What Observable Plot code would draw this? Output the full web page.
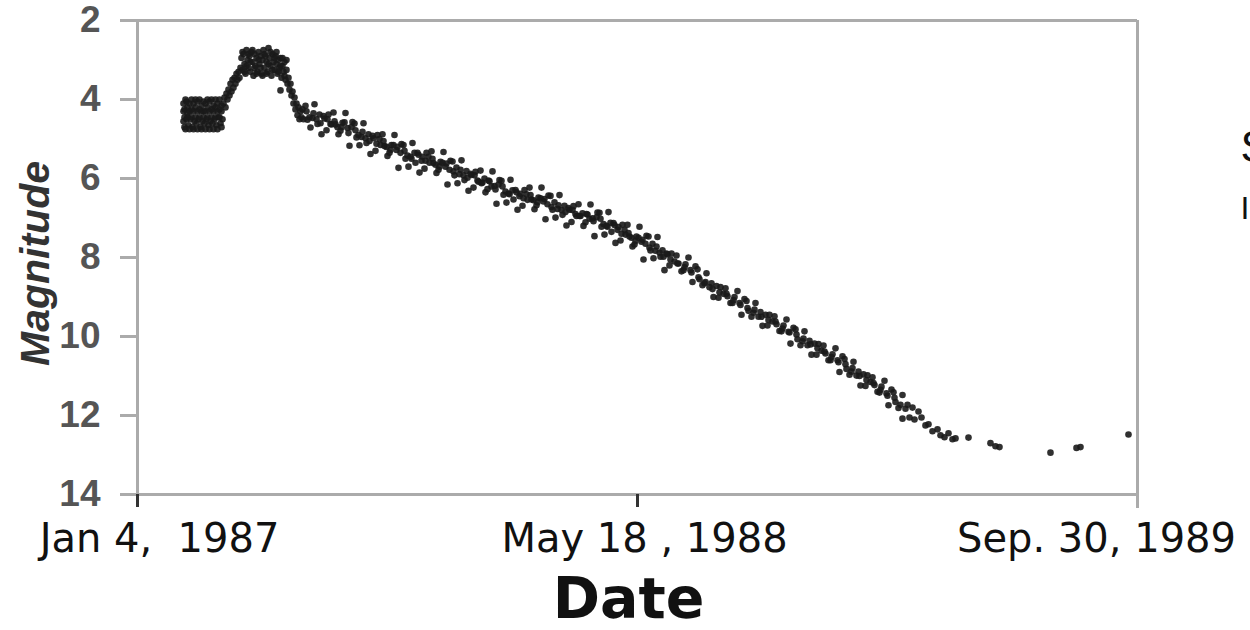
<!DOCTYPE html>
<html>
<head>
<meta charset="utf-8">
<script src="https://cdn.jsdelivr.net/npm/d3@7"></script>
<script src="https://cdn.jsdelivr.net/npm/@observablehq/plot@0.6"></script>
<style>
  html, body { margin: 0; padding: 0; background: #fff; }
  svg { display: block; }
</style>
</head>
<body>
<div id="chart"></div>
<script>
// Day offsets from Jan 4, 1987 and visual magnitudes
const plateau = [[46,4.1],[46,4.55],[47,4.25],[47,4.7],[49,4.05],[49,4.5],[50,4.2],[51,4.65],[52,4.1],[53,4.5],[54,4.25],[55,4.7],[56,4.1],[57,4.55],[58,4.2],[59,4.6],[60,4.05],[61,4.5],[62,4.25],[63,4.7],[64,4.15],[65,4.55],[66,4.3],[67,4.6],[68,4.1],[69,4.5],[70,4.2],[71,4.65],[72,4.05],[73,4.55],[74,4.25],[75,4.6],[76,4.15],[77,4.5],[78,4.2],[79,4.65],[80,4.1],[81,4.45],[82,4.25],[83,4.6],[84,4.15],[85,4.5],
  [46,4.3],[47,4.45],[48,4.0],[48,4.75],[50,4.35],[50,4.45],[52,4.3],[52,4.75],[54,4.0],[54,4.45],[56,4.3],[56,4.75],[58,4.0],[58,4.45],[60,4.3],[60,4.75],[62,4.0],[62,4.45],[64,4.3],[64,4.75],[66,4.05],[66,4.45],[68,4.3],[68,4.75],[70,4.0],[70,4.45],[72,4.3],[72,4.75],[74,4.0],[74,4.45],[76,4.3],[76,4.75],[78,4.0],[78,4.45],[80,4.3],[80,4.75],[82,4.0],[82,4.45],[84,4.3],[84,4.7]];
const rise = [[86,4.1],[87,3.95],[88,4.2],[89,3.85],[90,4.0],[91,3.75],[92,3.9],[93,3.6],[94,3.8],[95,3.5],[96,3.7],[97,3.45],[98,3.6],[99,3.35],[100,3.5],[101,3.3],[102,3.45],[103,3.2]];
const peak = [[104,2.95],[105,3.25],[106,2.85],[107,3.1],[108,3.35],[109,2.75],[110,3.0],[111,3.2],[112,2.9],[113,3.3],[114,2.8],[115,3.05],[116,3.4],[117,2.85],[118,3.15],[119,2.95],[120,3.3],[121,2.8],[122,3.1],[123,2.9],[124,3.35],[125,3.0],[126,2.75],[127,3.2],[128,2.9],[129,3.05],[130,3.3],[131,2.7],[132,2.95],[133,3.15],[134,3.4],[135,2.85],[136,3.05],[137,3.25],[138,2.9],[139,3.1],[140,3.35],[141,3.0],[142,3.2],[143,2.95],[143,3.77],[144,3.45],[145,3.15],[146,3.3],[147,3.05],[148,3.5],[149,3.25],[150,3.6],
  [105,2.8],[107,3.3],[109,3.15],[111,2.85],[113,3.05],[115,2.75],[117,3.2],[119,3.35],[121,3.0],[123,3.2],[125,3.4],[127,2.85],[129,3.35],[131,3.1],[133,2.8],[135,3.25],[137,2.95],[139,2.8],[141,3.3],[143,3.15],[145,2.95],[147,3.4],[149,3.0]];
const fall = [[151,3.45],[152,3.75],[153,3.6],[154,3.9],[155,3.8],[156,4.1],[157,3.95],[158,4.25],[159,4.1],[160,4.4],[161,4.2],[162,4.5],[163,4.3],[164,4.45],[165,4.25],[166,4.5]];
const decline = [
  [168,4.16],[170,4.51],[173,4.71],[175,4.47],[177,4.12],[180,4.62],[182,4.38],[184,4.88],[187,4.48],
  [189,4.78],[191,4.38],[194,4.63],[196,4.33],[198,4.63],[201,4.88],[203,4.79],[205,4.59],[208,4.34],
  [210,4.72],[212,5.17],[215,4.57],[217,4.61],[219,4.96],[222,5.16],[224,4.95],[226,4.6],[229,5.1],
  [231,4.88],[233,5.38],[236,4.98],[238,5.3],[240,4.9],[243,5.15],[245,4.88],[247,5.18],[250,5.43],
  [252,5.35],[254,5.15],[257,4.9],[259,5.28],[261,5.73],[264,5.13],[266,5.15],[268,5.5],[271,5.7],
  [273,5.45],[275,5.1],[278,5.6],[280,5.35],[282,5.85],[285,5.45],[287,5.75],[289,5.35],[292,5.6],
  [294,5.31],[296,5.61],[299,5.86],[301,5.78],[303,5.58],[306,5.33],[308,5.7],[310,6.15],[313,5.55],
  [315,5.57],[317,5.92],[320,6.12],[322,5.89],[324,5.54],[327,6.04],[329,5.81],[331,6.31],[334,5.91],
  [336,6.23],[338,5.83],[341,6.08],[343,5.8],[345,6.1],[348,6.35],[350,6.27],[352,6.07],[355,5.82],
  [357,6.19],[359,6.64],[362,6.04],[364,6.06],[366,6.41],[369,6.61],[371,6.38],[373,6.03],[376,6.53],
  [378,6.29],[380,6.79],[383,6.39],[385,6.69],[387,6.29],[390,6.54],[392,6.23],[394,6.53],[397,6.78],
  [399,6.68],[401,6.48],[404,6.23],[406,6.58],[408,7.03],[411,6.43],[413,6.44],[415,6.79],[418,6.99],
  [420,6.77],[422,6.42],[425,6.92],[427,6.69],[429,7.19],[432,6.79],[434,7.1],[436,6.7],[439,6.95],
  [441,6.65],[443,6.95],[446,7.2],[448,7.11],[450,6.91],[453,6.66],[455,7.01],[457,7.46],[460,6.86],
  [462,6.87],[464,7.22],[467,7.42],[469,7.2],[471,6.85],[474,7.35],[476,7.13],[478,7.63],[481,7.23],
  [483,7.57],[485,7.17],[488,7.42],[490,7.17],[492,7.47],[495,7.72],[497,7.67],[499,7.47],[502,7.22],
  [504,7.6],[506,8.05],[509,7.45],[511,7.47],[513,7.82],[516,8.02],[518,7.83],[520,7.48],[523,7.98],
  [525,7.82],[527,8.32],[530,7.92],[532,8.2],[534,7.9],[537,8.1],[539,7.95],[541,8.15],[544,8.35],
  [546,8.32],[548,8.17],[551,8.0],[553,8.32],[555,8.62],[558,8.22],[560,8.3],[562,8.55],[565,8.7],
  [567,8.65],[569,8.4],[572,8.75],[574,8.65],[576,9.0],[579,8.72],[581,9.02],[583,8.75],[586,8.92],
  [588,8.78],[590,8.98],[593,9.15],[595,9.15],[597,9.0],[600,8.85],[602,9.15],[604,9.45],[607,9.05],
  [609,9.1],[611,9.35],[614,9.5],[616,9.4],[618,9.15],[621,9.5],[623,9.38],[625,9.73],[628,9.45],
  [630,9.72],[632,9.45],[635,9.62],[637,9.49],[639,9.69],[642,9.86],[644,9.87],[646,9.72],[649,9.57],
  [651,9.88],[653,10.18],[656,9.78],[658,9.82],[660,10.07],[663,10.22],[665,10.12],[667,9.87],[670,10.22],
  [672,10.11],[674,10.46],[677,10.18],[679,10.46],[681,10.19],[684,10.36],[686,10.23],[688,10.43],[691,10.6],
  [693,10.6],[695,10.45],[698,10.3],[700,10.6],[702,10.9],[705,10.5],[707,10.57],[709,10.82],[712,10.97],
  [714,10.89],[716,10.64],[719,10.99],[721,10.89],[723,11.24],[726,10.96],[728,11.25],[730,10.98],[733,11.15],
  [735,11.03],[737,11.23],[740,11.4],[742,11.42],[744,11.27],[747,11.12],[749,11.44],[751,11.74],[754,11.34],
  [756,11.41],[758,11.66],[761,11.81],[763,11.73],[765,11.48],[768,11.83],[770,11.73],[772,12.05],[775,11.8],
  [777,12.1],[781,11.9],[784,12.05],[788,12.25],[791,12.22],[795,12.4],[800,12.35],[803,12.5],[807,12.55],
  [811,12.45],[815,12.6],[818,12.58]
];
const declineCore = [
  [169,4.3],[172,4.45],[176,4.35],[179,4.5],[183,4.6],[186,4.42],[190,4.5],[193,4.62],[197,4.55],[200,4.7],
  [204,4.7],[207,4.58],[211,4.85],[214,4.7],[218,4.78],[221,4.9],[225,4.82],[228,4.98],[232,5.05],[235,4.92],
  [239,5.12],[242,5.0],[246,5.05],[249,5.2],[253,5.28],[256,5.15],[260,5.2],[263,5.35],[267,5.3],[270,5.42],
  [274,5.5],[277,5.35],[281,5.4],[284,5.55],[288,5.55],[291,5.45],[295,5.5],[298,5.65],[302,5.7],[305,5.6],
  [309,5.62],[312,5.78],[316,5.82],[319,5.72],[323,5.78],[326,5.92],[330,5.98],[333,5.88],[337,5.92],[340,6.05],
  [344,6.12],[347,6.0],[351,6.05],[354,6.2],[358,6.28],[361,6.15],[365,6.2],[368,6.33],[372,6.4],[375,6.3],
  [379,6.35],[382,6.45],[386,6.5],[389,6.4],[393,6.42],[396,6.55],[400,6.6],[403,6.5],[407,6.52],[410,6.65],
  [414,6.72],[417,6.6],[421,6.68],[424,6.8],[428,6.85],[431,6.75],[435,6.8],[438,6.9],[442,6.95],[445,6.88],
  [449,6.9],[452,7.02],[456,7.08],[459,6.98],[463,7.02],[466,7.15],[470,7.22],[473,7.12],[477,7.18],[480,7.3],
  [484,7.4],[487,7.3],[491,7.38],[494,7.5],[498,7.58],[501,7.5],[505,7.55],[508,7.65],[512,7.75],[515,7.65],
  [519,7.72],[522,7.88],[526,7.98],[529,7.9],
  [533,8.05],[540,8.15],[547,8.25],[554,8.38],[561,8.5],[568,8.62],[575,8.8],[582,8.88],[589,8.92],[596,9.08],
  [603,9.2],[610,9.28],[617,9.32],[624,9.5],[631,9.58],[638,9.62],[645,9.8],[652,9.9],[659,9.95],[666,10.05],
  [673,10.2],[680,10.3],[687,10.38],[694,10.52],[701,10.65],[708,10.7],[715,10.8],[722,11.0],[729,11.1],[736,11.18],
  [743,11.35],[750,11.5],[757,11.55]
];
const tail = [[765,12.08],[831,12.56],[853,12.7],[858,12.78],[862,12.8],[913,12.94],[939,12.82],[943,12.8],[991,12.48]];

const yTicks = [2, 4, 6, 8, 10, 12, 14];
const xTickDays = [0, 500, 1000];
const xTickLabels = ["Jan 4,  1987", "May 18 , 1988", "Sep. 30, 1989"];
const xTitle = "Date";
const yTitle = "Magnitude";
const sideLetters = ["S", "I"];

const points = [...plateau, ...rise, ...peak, ...fall, ...decline, ...declineCore, ...tail]
  .map(([day, mag]) => ({day, mag}));

const gray = "#ababab";
const labelShift = [22, 7, -41];
const sideStyle = [{dy: 127, fontSize: 44}, {dy: 188, fontSize: 32}];

const chart = Plot.plot({
  width: 1250,
  height: 630,
  marginLeft: 137,
  marginRight: 113,
  marginTop: 20,
  marginBottom: 136,
  style: {background: "#fff", overflow: "visible", fontFamily: "Liberation Sans"},
  x: {domain: [0, 1000]},
  y: {domain: [2, 14], reverse: true},
  marks: [
    Plot.ruleY([2], {stroke: gray, strokeWidth: 3, insetLeft: -17}),
    Plot.ruleY([14], {stroke: gray, strokeWidth: 3, insetLeft: -17}),
    Plot.ruleX([0], {stroke: gray, strokeWidth: 3, insetBottom: -6}),
    Plot.ruleX([1000], {stroke: gray, strokeWidth: 3, insetBottom: -14}),
    Plot.axisY(yTicks, {
      tickSize: 17, tickPadding: 20, stroke: gray, strokeWidth: 3,
      fill: "#555", fontSize: 37, fontWeight: "bold", fontFamily: "Liberation Sans", label: null
    }),
    Plot.axisX(xTickDays.slice(0, 2), {
      tickSize: 13, stroke: "#333", strokeWidth: 3, tickFormat: () => "", label: null
    }),
    ...xTickLabels.map((label, i) => Plot.text([label], {
      x: () => xTickDays[i], frameAnchor: "bottom", dy: 57, dx: labelShift[i],
      fontSize: 40, fontFamily: "DejaVu Sans", fill: "#111"
    })),
    Plot.text([xTitle], {
      frameAnchor: "bottom", dx: -9, dy: 123,
      fontSize: 57, fontWeight: "bold", fontFamily: "DejaVu Sans", fill: "#111"
    }),
    Plot.text([yTitle], {
      frameAnchor: "left", textAnchor: "middle", rotate: -90, dx: -102, dy: 6,
      fontSize: 41, fontWeight: "bold", fontStyle: "italic", fontFamily: "Liberation Sans", fill: "#333"
    }),
    ...sideLetters.map((s, i) => Plot.text([s], {
      frameAnchor: "top-right", textAnchor: "start", lineAnchor: "middle", dx: 103, dy: sideStyle[i].dy,
      fontSize: sideStyle[i].fontSize, fontFamily: "Liberation Sans", fill: "#111"
    })),
    Plot.dot(points, {x: "day", y: "mag", r: 3.3, fill: "#1a1a1a", fillOpacity: 0.9, stroke: null})
  ]
});

document.getElementById("chart").appendChild(chart);
</script>
</body>
</html>
